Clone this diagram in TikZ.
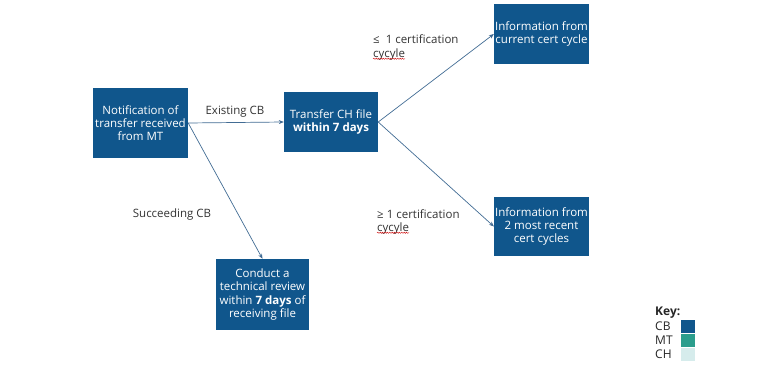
\documentclass[tikz,border=0pt]{standalone}
\usepackage{fontspec}
\setmainfont{Open Sans}
\usepackage{xcolor}
\usetikzlibrary{arrows.meta,decorations.pathmorphing}
\definecolor{cbblue}{RGB}{16,86,140}
\definecolor{mtteal}{RGB}{42,157,140}
\definecolor{chpale}{RGB}{214,236,236}
\definecolor{linkgrey}{RGB}{66,108,148}

\begin{document}
\begin{tikzpicture}[x=1pt,y=-1pt,font=\fontsize{11.5}{13.3}\selectfont,
  cbbox/.style={fill=cbblue,text=white,align=center,inner sep=1pt},
  flow/.style={linkgrey,line width=0.7pt,-{Stealth[length=5pt,width=4pt]}},
  tag/.style={text=black!80,align=left,inner sep=0pt},
  squig/.style={red!80!black,line width=0.4pt,decorate,decoration={snake,amplitude=0.6pt,segment length=2.4pt}},
  keytxt/.style={anchor=west,inner sep=0pt,font=\fontsize{12}{13}\selectfont,text=black!85},
  swatch/.style={minimum width=14,minimum height=13,inner sep=0pt}]
 \useasboundingbox (0,0) rectangle (770,366);
 % boxes
 \node[cbbox,minimum width=95,minimum height=70] (notif) at (140.5,123) {Notification of\\transfer received\\from MT};
 \node[cbbox,minimum width=94,minimum height=60] (transfer) at (331,122) {Transfer CH file\\\textbf{within 7 days}};
 \node[cbbox,minimum width=93,minimum height=60] (infocur) at (541.5,34) {Information from\\current cert cycle};
 \node[cbbox,minimum width=93,minimum height=59] (inforec) at (541.5,226.5) {Information from\\2 most recent\\cert cycles};
 \node[cbbox,minimum width=93,minimum height=71] (review) at (262.5,294.5) {Conduct a\\technical review\\within \textbf{7 days} of\\receiving file};
 % connectors
 \draw[flow] (notif.east) -- (transfer.west);
 \draw[flow] (notif.east) -- (review.north);
 \draw[flow] (transfer.east) -- (infocur.west);
 \draw[flow] (transfer.east) -- (inforec.west);
 % labels
 \node[tag] (existing) at (235,112) {Existing CB};
 \node[tag] (succeeding) at (172,215) {Succeeding CB};
 \node[tag,anchor=north west] (lecycle) at (373,35) {≤ ~1 certification\\cycyle};
 \node[tag,anchor=north west] (gecycle) at (377,209) {≥ 1 certification\\cycyle};
 \draw[squig] ([yshift=1.5pt]lecycle.south west) -- ++(32,0);
 \draw[squig] ([yshift=1.5pt]gecycle.south west) -- ++(32,0);
 % key
 \node[keytxt,font=\fontsize{12}{13}\selectfont\bfseries] (keyhead) at (655,313) {Key:};
 \node[keytxt] (keycb) at (655,326) {CB};
 \node[keytxt] (keymt) at (655,340) {MT};
 \node[keytxt] (keych) at (655,354) {CH};
 \node[swatch,fill=cbblue] (swcb) at (688,326) {};
 \node[swatch,fill=mtteal] (swmt) at (688,340) {};
 \node[swatch,fill=chpale] (swch) at (688,354) {};
\end{tikzpicture}
\end{document}
